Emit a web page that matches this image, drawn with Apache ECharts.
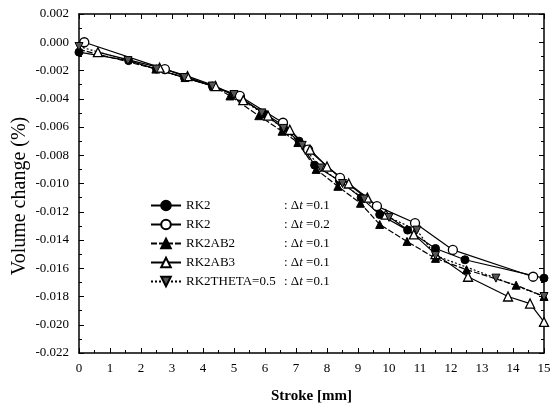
<!DOCTYPE html>
<html>
<head>
<meta charset="utf-8">
<script src="https://cdn.jsdelivr.net/npm/echarts@6/dist/echarts.min.js"></script>
<style>
  html, body { margin: 0; padding: 0; background: #fff; }
  #chart { width: 555px; height: 409px; }
</style>
</head>
<body>
<div id="chart"></div>
<script>
// --- data ---
const seriesNames = ['RK2 a', 'RK2 b', 'RK2AB2', 'RK2AB3', 'RK2THETA=0.5'];
const legendLabels = ['RK2', 'RK2', 'RK2AB2', 'RK2AB3', 'RK2THETA=0.5'];
const dtLabels = ['0.1', '0.2', '0.1', '0.1', '0.1'];

const rk2Dt01X = [0, 1.6, 2.5, 3.4, 4.3, 5.2, 6.0, 6.6, 7.1, 7.6, 8.4, 9.1, 9.7, 10.6, 11.5, 12.45, 15];
const rk2Dt01Y = [-0.0007, -0.0013, -0.0019, -0.0025, -0.0031, -0.0039, -0.0051, -0.0061, -0.0070, -0.0087, -0.0098, -0.0110, -0.0122, -0.0133, -0.0146, -0.0154, -0.0167];

const rk2Dt02X = [0.17, 2.77, 5.19, 6.58, 7.39, 8.42, 9.61, 10.84, 12.06, 14.65];
const rk2Dt02Y = [0.0000, -0.0019, -0.0038, -0.0057, -0.0076, -0.0096, -0.0116, -0.0128, -0.0147, -0.0166];

const ab2X = [0, 2.48, 3.42, 4.33, 4.87, 5.8, 6.55, 7.06, 7.65, 8.35, 9.08, 9.7, 10.58, 11.5, 12.5, 14.1, 15];
const ab2Y = [-0.0005, -0.0019, -0.0025, -0.0031, -0.0038, -0.0052, -0.0063, -0.0071, -0.0090, -0.0102, -0.0114, -0.0129, -0.0141, -0.0153, -0.0161, -0.0172, -0.0180];

const ab3X = [0.61, 2.6, 3.5, 4.4, 5.3, 6.1, 6.8, 7.45, 8.0, 8.7, 9.3, 9.9, 10.8, 11.5, 12.55, 13.84, 14.55, 15];
const ab3Y = [-0.0007, -0.0018, -0.0024, -0.0031, -0.0041, -0.0052, -0.0062, -0.0076, -0.0088, -0.0100, -0.0110, -0.0122, -0.0136, -0.0150, -0.0166, -0.0180, -0.0185, -0.0198];

const thetaX = [0, 1.58, 2.5, 3.4, 4.3, 5.0, 5.9, 6.6, 7.2, 7.8, 8.5, 9.2, 10.0, 10.9, 11.5, 13.45, 15];
const thetaY = [-0.0003, -0.0013, -0.0019, -0.0025, -0.0031, -0.0037, -0.0050, -0.0061, -0.0073, -0.0089, -0.0100, -0.0111, -0.0124, -0.0133, -0.0151, -0.0167, -0.0180];

const xTicks = { min: 0, max: 15, interval: 1 };
const yTicks = { min: -0.022, max: 0.002, interval: 0.002 };

const pairs = (xs, ys) => xs.map((x, i) => [x, ys[i]]);

const FONT = '"Liberation Serif", "DejaVu Serif", serif';

const chart = echarts.init(document.getElementById('chart'));

const baseSeries = (name, xs, ys, symbol, extra) => Object.assign({
  name: name,
  type: 'line',
  data: pairs(xs, ys),
  symbol: symbol,
  symbolSize: 8,
  lineStyle: { color: '#000', width: 1.2 },
  itemStyle: { color: '#000', borderColor: '#000', borderWidth: 1 },
  emphasis: { disabled: true },
  animation: false
}, extra || {});

const xAxisCommon = {
  type: 'value',
  min: xTicks.min,
  max: xTicks.max,
  interval: xTicks.interval,
  splitLine: { show: false },
  axisLine: { show: true, onZero: false, lineStyle: { color: '#000', width: 1.5 } },
  axisTick: { show: true, inside: true, length: 5, lineStyle: { color: '#000' } },
  minorTick: { show: true, splitNumber: 2, length: 3, lineStyle: { color: '#000' } }
};
const yAxisCommon = {
  type: 'value',
  min: yTicks.min,
  max: yTicks.max,
  interval: yTicks.interval,
  splitLine: { show: false },
  axisLine: { show: true, onZero: false, lineStyle: { color: '#000', width: 1.5 } },
  axisTick: { show: true, inside: true, length: 5, lineStyle: { color: '#000' } },
  minorTick: { show: true, splitNumber: 2, length: 3, lineStyle: { color: '#000' } }
};

chart.setOption({
  backgroundColor: '#fff',
  animation: false,
  grid: { left: 79, right: 11, top: 14, bottom: 53 },
  graphic: [{
    type: 'text',
    x: 20,
    y: 196,
    rotation: Math.PI / 2,
    style: {
      text: 'Volume change (%)',
      font: '20px ' + FONT,
      fill: '#000',
      align: 'center',
      verticalAlign: 'middle'
    }
  }],
  xAxis: [
    Object.assign({}, xAxisCommon, {
      position: 'bottom',
      name: 'Stroke [mm]',
      nameLocation: 'middle',
      nameGap: 36,
      nameTextStyle: { fontFamily: FONT, fontSize: 15, fontWeight: 'bold', color: '#000' },
      axisLabel: { fontFamily: FONT, fontSize: 13, color: '#000', margin: 9 }
    }),
    Object.assign({}, xAxisCommon, { position: 'top', axisLabel: { show: false } })
  ],
  yAxis: [
    Object.assign({}, yAxisCommon, {
      position: 'left',
      axisLabel: {
        fontFamily: FONT, fontSize: 13, color: '#000', margin: 10,
        formatter: v => (Math.abs(v) < 1e-9 ? 0 : v).toFixed(3)
      }
    }),
    Object.assign({}, yAxisCommon, { position: 'right', axisLabel: { show: false } })
  ],
  legend: {
    orient: 'vertical',
    left: 145,
    top: 194,
    itemWidth: 30,
    itemHeight: 12,
    itemGap: 6,
    data: seriesNames,
    formatter: name => {
      const i = seriesNames.indexOf(name);
      return '{n|' + legendLabels[i] + '}{c|: Δ}{t|t}{v| =' + dtLabels[i] + '}';
    },
    textStyle: {
      fontFamily: FONT, fontSize: 13, color: '#000',
      rich: {
        n: { fontFamily: FONT, fontSize: 13, color: '#000', width: 98 },
        c: { fontFamily: FONT, fontSize: 13, color: '#000' },
        t: { fontFamily: FONT, fontSize: 13, color: '#000', fontStyle: 'italic' },
        v: { fontFamily: FONT, fontSize: 13, color: '#000' }
      }
    }
  },
  series: [
    baseSeries(seriesNames[0], rk2Dt01X, rk2Dt01Y, 'circle'),
    baseSeries(seriesNames[1], rk2Dt02X, rk2Dt02Y, 'circle', {
      itemStyle: { color: '#fff', borderColor: '#000', borderWidth: 1.3 },
      symbolSize: 9
    }),
    baseSeries(seriesNames[2], ab2X, ab2Y, 'triangle', {
      lineStyle: { color: '#000', width: 1.2, type: [6, 2] }
    }),
    baseSeries(seriesNames[3], ab3X, ab3Y, 'triangle', {
      itemStyle: { color: '#fff', borderColor: '#000', borderWidth: 1.3 },
      symbolSize: 9
    }),
    baseSeries(seriesNames[4], thetaX, thetaY, 'triangle', {
      symbolRotate: 180,
      itemStyle: { color: '#555', borderColor: '#000', borderWidth: 1 },
      lineStyle: { color: '#000', width: 1.2, type: [2, 2] }
    })
  ]
});
</script>
</body>
</html>
